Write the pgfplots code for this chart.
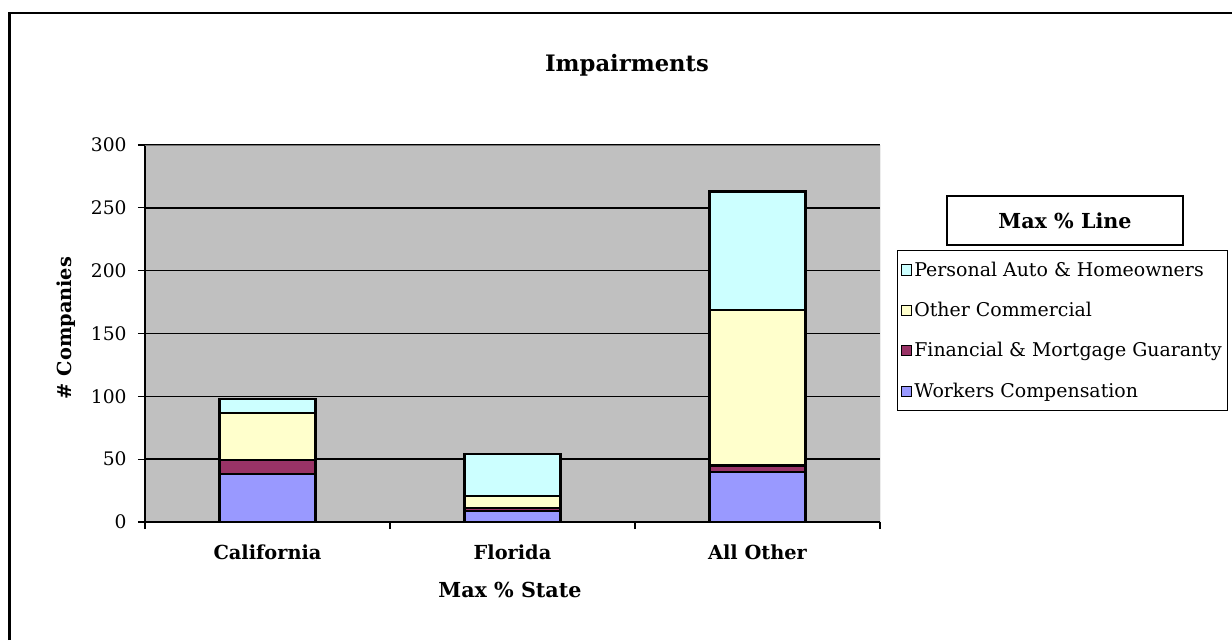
\documentclass[border=0pt]{standalone}
\usepackage{fontspec}
\setmainfont{DejaVu Serif}
\usepackage{pgfplots}
\pgfplotsset{compat=1.18}
\definecolor{wc}{HTML}{9999FF}
\definecolor{fmg}{HTML}{993366}
\definecolor{oc}{HTML}{FFFFCC}
\definecolor{pa}{HTML}{CCFFFF}
\definecolor{plotbg}{HTML}{C0C0C0}
\begin{document}
\begin{tikzpicture}[x=0.75pt,y=0.75pt]
\useasboundingbox (0,0) rectangle (1232,640);
\fill[white] (0,0) rectangle (1232,640);
\draw[black,line width=1.6pt] (9.5,0) -- (9.5,627) -- (1232,627);
\coordinate (O) at (145,118);
\node[font=\bfseries\fontsize{17}{20}\selectfont] at (627,575) {Impairments};
\node[font=\bfseries\fontsize{15.5}{18}\selectfont] at (510,50) {Max \% State};
\node[font=\bfseries\fontsize{14.5}{17}\selectfont, rotate=90] at (66,312) {\# Companies};
\begin{axis}[
  at={(O)}, anchor=south west,
  scale only axis, width=551.25pt, height=282.75pt,
  ybar stacked, bar width=72pt,
  xmin=-0.5, xmax=2.5, ymin=0, ymax=300,
  ytick={0,50,...,300},
  xtick={0,1,2}, xticklabels={California,Florida,All Other},
  x tick label style={font=\bfseries\fontsize{14.5}{17}\selectfont, yshift=-8pt},
  y tick label style={font=\fontsize{14}{16}\selectfont, xshift=-5pt},
  /pgf/number format/assume math mode=true,
  xtick style={draw=none},
  extra x ticks={-0.5,0.5,1.5,2.5}, extra x tick labels={},
  extra x tick style={xtick style={draw=black, line width=0.9pt}, major tick length=5.25pt, tick align=outside, grid=none},
  ytick style={draw=black, line width=0.9pt}, major tick length=5.25pt, tick align=outside,
  xtick pos=bottom, ytick pos=left,
  ymajorgrids, grid style={black, line width=1.2pt},
  axis background/.style={fill=plotbg},
  axis line style={black, line width=1pt},
  axis x line*=bottom, axis y line*=left,
  legend style={at={(1.0231,0.7215)}, anchor=north west, draw=black, line width=0.6pt,
    font=\fontsize{14.2}{16}\selectfont, row sep=14pt, inner xsep=2.5pt, inner ysep=6.5pt, cells={anchor=west}},
  legend image code/.code={\draw[#1, line width=0.6pt] (0pt,-3.8pt) rectangle (7.6pt,3.8pt);},
  reverse legend,
]
\addplot[fill=wc, draw=black, line width=1.6pt] coordinates {(0,38) (1,9) (2,40)};
\addplot[fill=fmg, draw=black, line width=1.6pt] coordinates {(0,11) (1,2) (2,5)};
\addplot[fill=oc, draw=black, line width=1.6pt] coordinates {(0,38) (1,10) (2,124)};
\addplot[fill=pa, draw=black, line width=1.6pt] coordinates {(0,11) (1,33) (2,94)};
\legend{Workers Compensation, Financial \& Mortgage Guaranty, Other Commercial, Personal Auto \& Homeowners}
\draw[plotbg!60!black, line width=0.6pt] (rel axis cs:0,1) -- (rel axis cs:1,1) -- (rel axis cs:1,0);
\end{axis}
\node[draw=black, line width=0.9pt, minimum width=177pt, minimum height=36.75pt, font=\bfseries\fontsize{15.5}{18}\selectfont] at (1065,419.5) {Max \% Line};
\end{tikzpicture}
\end{document}
